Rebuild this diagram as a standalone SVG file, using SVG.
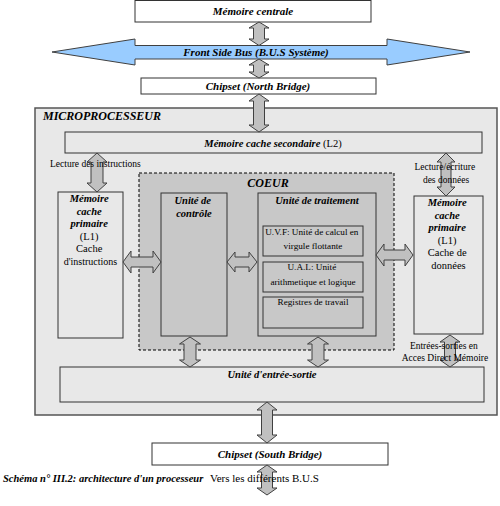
<svg xmlns="http://www.w3.org/2000/svg" width="500" height="506" viewBox="0 0 500 506">
<style>
text{font-family:"Liberation Serif","Times New Roman",serif;fill:#000}
.bi{font-weight:bold;font-style:italic}
.t{font-size:9.5px}
.b{font-size:10.5px}
.h{font-size:11px}
.box{fill:#fff;stroke:#333;stroke-width:1}
.lg{fill:#e8e8e8;stroke:#333;stroke-width:1}
.dg{fill:#c8c8c8;stroke:#333;stroke-width:1}
.arr{fill:#c0c0c0;stroke:#404040;stroke-width:1}
</style>
<rect width="500" height="506" fill="#fff"/>

<g id="memoire-centrale">
<rect class="box" x="135" y="0.5" width="236" height="21.5"/>
<text class="bi h" x="253" y="14.5" text-anchor="middle">Mémoire centrale</text>
</g>

<g id="fsb">
<path d="M52,52 L135,39 L135,45.5 L387,45.5 L387,39 L470,52 L387,65 L387,59 L135,59 L135,65 Z" fill="#99ccff" stroke="#404040" stroke-width="1"/>
<text class="bi h" x="256" y="56" text-anchor="middle" fill="#1a1a40">Front Side Bus (B.U.S Système)</text>
</g>

<g id="north-bridge">
<rect class="box" x="141" y="78" width="235" height="16"/>
<text class="bi h" x="258" y="90" text-anchor="middle">Chipset (North Bridge)</text>
</g>

<g id="microprocesseur">
<rect x="35" y="108" width="462" height="307" fill="#e8e8e8" stroke="#555" stroke-width="1.5"/>
<text class="bi" font-size="12" x="43" y="120">MICROPROCESSEUR</text>
</g>

<g id="l2">
<rect class="lg" x="65" y="132" width="417" height="21"/>
<text class="b" x="273" y="146.5" text-anchor="middle"><tspan class="bi">Mémoire cache secondaire</tspan> (L2)</text>
</g>

<g id="coeur">
<rect x="139" y="173" width="255" height="177" fill="#c8c8c8" stroke="#000" stroke-width="1" stroke-dasharray="3,2"/>
<text class="bi" font-size="12" x="268" y="187" text-anchor="middle">COEUR</text>
</g>

<g id="l1-instructions">
<rect class="lg" x="58" y="192" width="65" height="146"/>
<text class="b" text-anchor="middle">
<tspan class="bi" x="90.5" y="202">Mémoire</tspan>
<tspan class="bi" x="90.5" y="214.5">cache</tspan>
<tspan class="bi" x="90.5" y="227">primaire</tspan>
<tspan x="90.5" y="239.5">(L1)</tspan>
<tspan x="90.5" y="252">Cache</tspan>
<tspan x="90.5" y="264.5" font-size="10">d'instructions</tspan>
</text>
</g>

<g id="unite-controle">
<rect class="dg" x="161" y="193" width="66" height="143"/>
<text class="bi b" text-anchor="middle">
<tspan x="194" y="203.5">Unité de</tspan>
<tspan x="194" y="216.5">contrôle</tspan>
</text>
</g>

<g id="unite-traitement">
<rect class="dg" x="258" y="193" width="118" height="143"/>
<text class="bi b" x="317" y="204" text-anchor="middle">Unité de traitement</text>
</g>

<g id="uvf">
<rect class="dg" x="263" y="226" width="100" height="30"/>
<text text-anchor="middle" font-size="9.2">
<tspan x="313" y="235">U.V.F: Unité de calcul en</tspan>
<tspan x="313" y="249">virgule flottante</tspan>
</text>
</g>

<g id="ual">
<rect class="dg" x="263" y="262" width="100" height="30"/>
<text text-anchor="middle" font-size="9.2">
<tspan x="313" y="270">U.A.L: Unité</tspan>
<tspan x="313" y="285">arithmetique et logique</tspan>
</text>
</g>

<g id="registres">
<rect class="dg" x="263" y="297" width="100" height="31"/>
<text x="313" y="305" text-anchor="middle" font-size="9.2">Registres de travail</text>
</g>

<g id="l1-donnees">
<rect class="lg" x="414" y="196" width="69" height="138"/>
<text class="b" text-anchor="middle">
<tspan class="bi" x="448.5" y="206">Mémoire</tspan>
<tspan class="bi" x="448.5" y="218.5">cache</tspan>
<tspan class="bi" x="448.5" y="231">primaire</tspan>
<tspan x="448.5" y="243.5">(L1)</tspan>
<tspan x="448.5" y="256">Cache de</tspan>
<tspan x="448.5" y="268.5">données</tspan>
</text>
</g>

<g id="unite-es">
<rect class="lg" x="60" y="367" width="424" height="35"/>
<text class="bi b" x="272" y="377.5" text-anchor="middle">Unité d'entrée-sortie</text>
</g>

<g id="south-bridge">
<rect class="box" x="152" y="443" width="236" height="22"/>
<text class="bi h" x="270" y="457.5" text-anchor="middle">Chipset (South Bridge)</text>
</g>

<g id="connectors">
<path class="arr" d="M259,22 L269,28 L264.5,28 L264.5,39 L269,39 L259,45.5 L249,39 L253.5,39 L253.5,28 L249,28 Z"/>
<path class="arr" d="M259,59 L269,65 L264.5,65 L264.5,72 L269,72 L259,78 L249,72 L253.5,72 L253.5,65 L249,65 Z"/>
<path class="arr" d="M259,94 L269,101 L264.5,101 L264.5,125 L269,125 L259,132 L249,125 L253.5,125 L253.5,101 L249,101 Z"/>
<path class="arr" d="M97,153 L107,162 L103,162 L103,183 L107,183 L97,192 L87,183 L91,183 L91,162 L87,162 Z"/>
<path class="arr" d="M446,153 L455,162 L451,162 L451,187 L455,187 L446,196 L437,187 L441,187 L441,162 L437,162 Z"/>
<path class="arr" d="M123,262 L131,251 L131,257 L153,257 L153,251 L161,262 L153,273 L153,267 L131,267 L131,273 Z"/>
<path class="arr" d="M227,262 L235,252 L235,257 L249,257 L249,252 L257,262 L249,272 L249,267 L235,267 L235,272 Z"/>
<path class="arr" d="M376,255 L384,244 L384,250 L405,250 L405,244 L413,255 L405,266 L405,260 L384,260 L384,266 Z"/>
<path class="arr" d="M190,337 L200.5,344 L196,344 L196,360 L200.5,360 L190,367 L179.5,360 L184,360 L184,344 L179.5,344 Z"/>
<path class="arr" d="M318,337 L328.5,344 L324,344 L324,360 L328.5,360 L318,367 L307.5,360 L312,360 L312,344 L307.5,344 Z"/>
<path class="arr" d="M450,335 L460,342 L455.5,342 L455.5,360 L460,360 L450,367 L440,360 L444.5,360 L444.5,342 L440,342 Z"/>
<path class="arr" d="M267,402 L277,410 L272.5,410 L272.5,435 L277,435 L267,443 L257,435 L261.5,435 L261.5,410 L257,410 Z"/>
<path class="arr" d="M267,465 L277,472 L272.5,472 L272.5,488 L277,488 L267,495 L257,488 L261.5,488 L261.5,472 L257,472 Z"/>
</g>

<g id="labels">
<text class="t" x="50" y="167">Lecture des instructions</text>
<text class="t" text-anchor="middle">
<tspan x="446" y="170">Lecture/écriture</tspan>
<tspan x="446" y="183">des données</tspan>
</text>
<text class="t" text-anchor="middle">
<tspan x="445" y="349">Entrées-sorties en</tspan>
<tspan x="445" y="361">Acces Direct Mémoire</tspan>
</text>
<text class="bi" font-size="10.5" x="3" y="481.5">Schéma n° III.2: architecture d'un processeur</text>
<text x="210" y="482" font-size="11">Vers les différents B.U.S</text>
</g>
</svg>
